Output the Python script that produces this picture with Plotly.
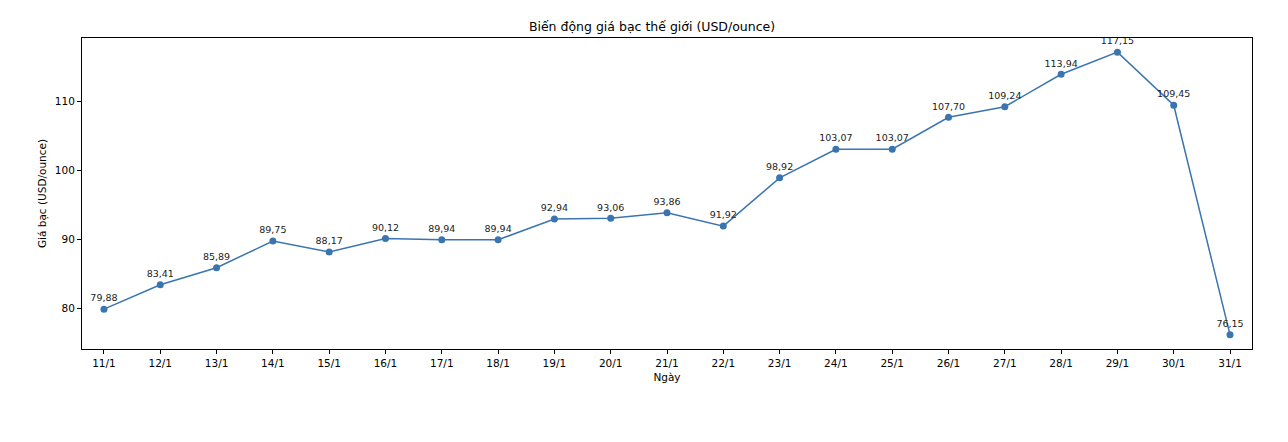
import plotly.graph_objects as go

ngay = ["11/1", "12/1", "13/1", "14/1", "15/1", "16/1", "17/1", "18/1", "19/1", "20/1",
        "21/1", "22/1", "23/1", "24/1", "25/1", "26/1", "27/1", "28/1", "29/1", "30/1", "31/1"]
gia_bac = [79.88, 83.41, 85.89, 89.75, 88.17, 90.12, 89.94, 89.94, 92.94, 93.06,
           93.86, 91.92, 98.92, 103.07, 103.07, 107.70, 109.24, 113.94, 117.15, 109.45, 76.15]

# nhan kieu Viet Nam: dau phay thap phan
nhan = [f"{v:.2f}".replace(".", ",") for v in gia_bac]

mau = "#3a75b0"
font = "DejaVu Sans"

fig = go.Figure()
fig.add_trace(go.Scatter(
    x=list(range(len(ngay))), y=gia_bac,
    mode="lines+markers+text",
    line=dict(color=mau, width=1.5),
    marker=dict(color=mau, size=7),
    text=nhan, textposition="top center",
    textfont=dict(family=font, size=9.5, color="#222"),
    cliponaxis=False,
    showlegend=False,
))

# trang co le body 8px
fig.update_layout(
    width=1288, height=442,
    margin=dict(l=74, r=44, t=30, b=101),
    paper_bgcolor="white", plot_bgcolor="white",
    font=dict(family=font, size=10.5, color="black"),
    title=dict(text="Biến động giá bạc thế giới (USD/ounce)", x=0.5, xanchor="center",
               y=1 - 19 / 442, yanchor="middle", font=dict(size=12.5)),
)
fig.update_xaxes(
    range=[-0.39, 20.39],
    tickmode="array", tickvals=list(range(len(ngay))), ticktext=ngay,
    ticks="outside", ticklen=4, tickcolor="black",
    showline=True, linecolor="black", linewidth=1, mirror=True,
    showgrid=False, zeroline=False, automargin=False,
    title=dict(text="Ngày", standoff=6, font=dict(size=10.5)),
)
fig.update_yaxes(
    range=[74.1, 119.2],
    tickvals=[80, 90, 100, 110],
    ticks="outside", ticklen=4, tickcolor="black",
    showline=True, linecolor="black", linewidth=1, mirror=True,
    showgrid=False, zeroline=False, automargin=False,
    title=dict(text="Giá bạc (USD/ounce)", standoff=6, font=dict(size=10.5)),
)

fig.write_html("out.html")
